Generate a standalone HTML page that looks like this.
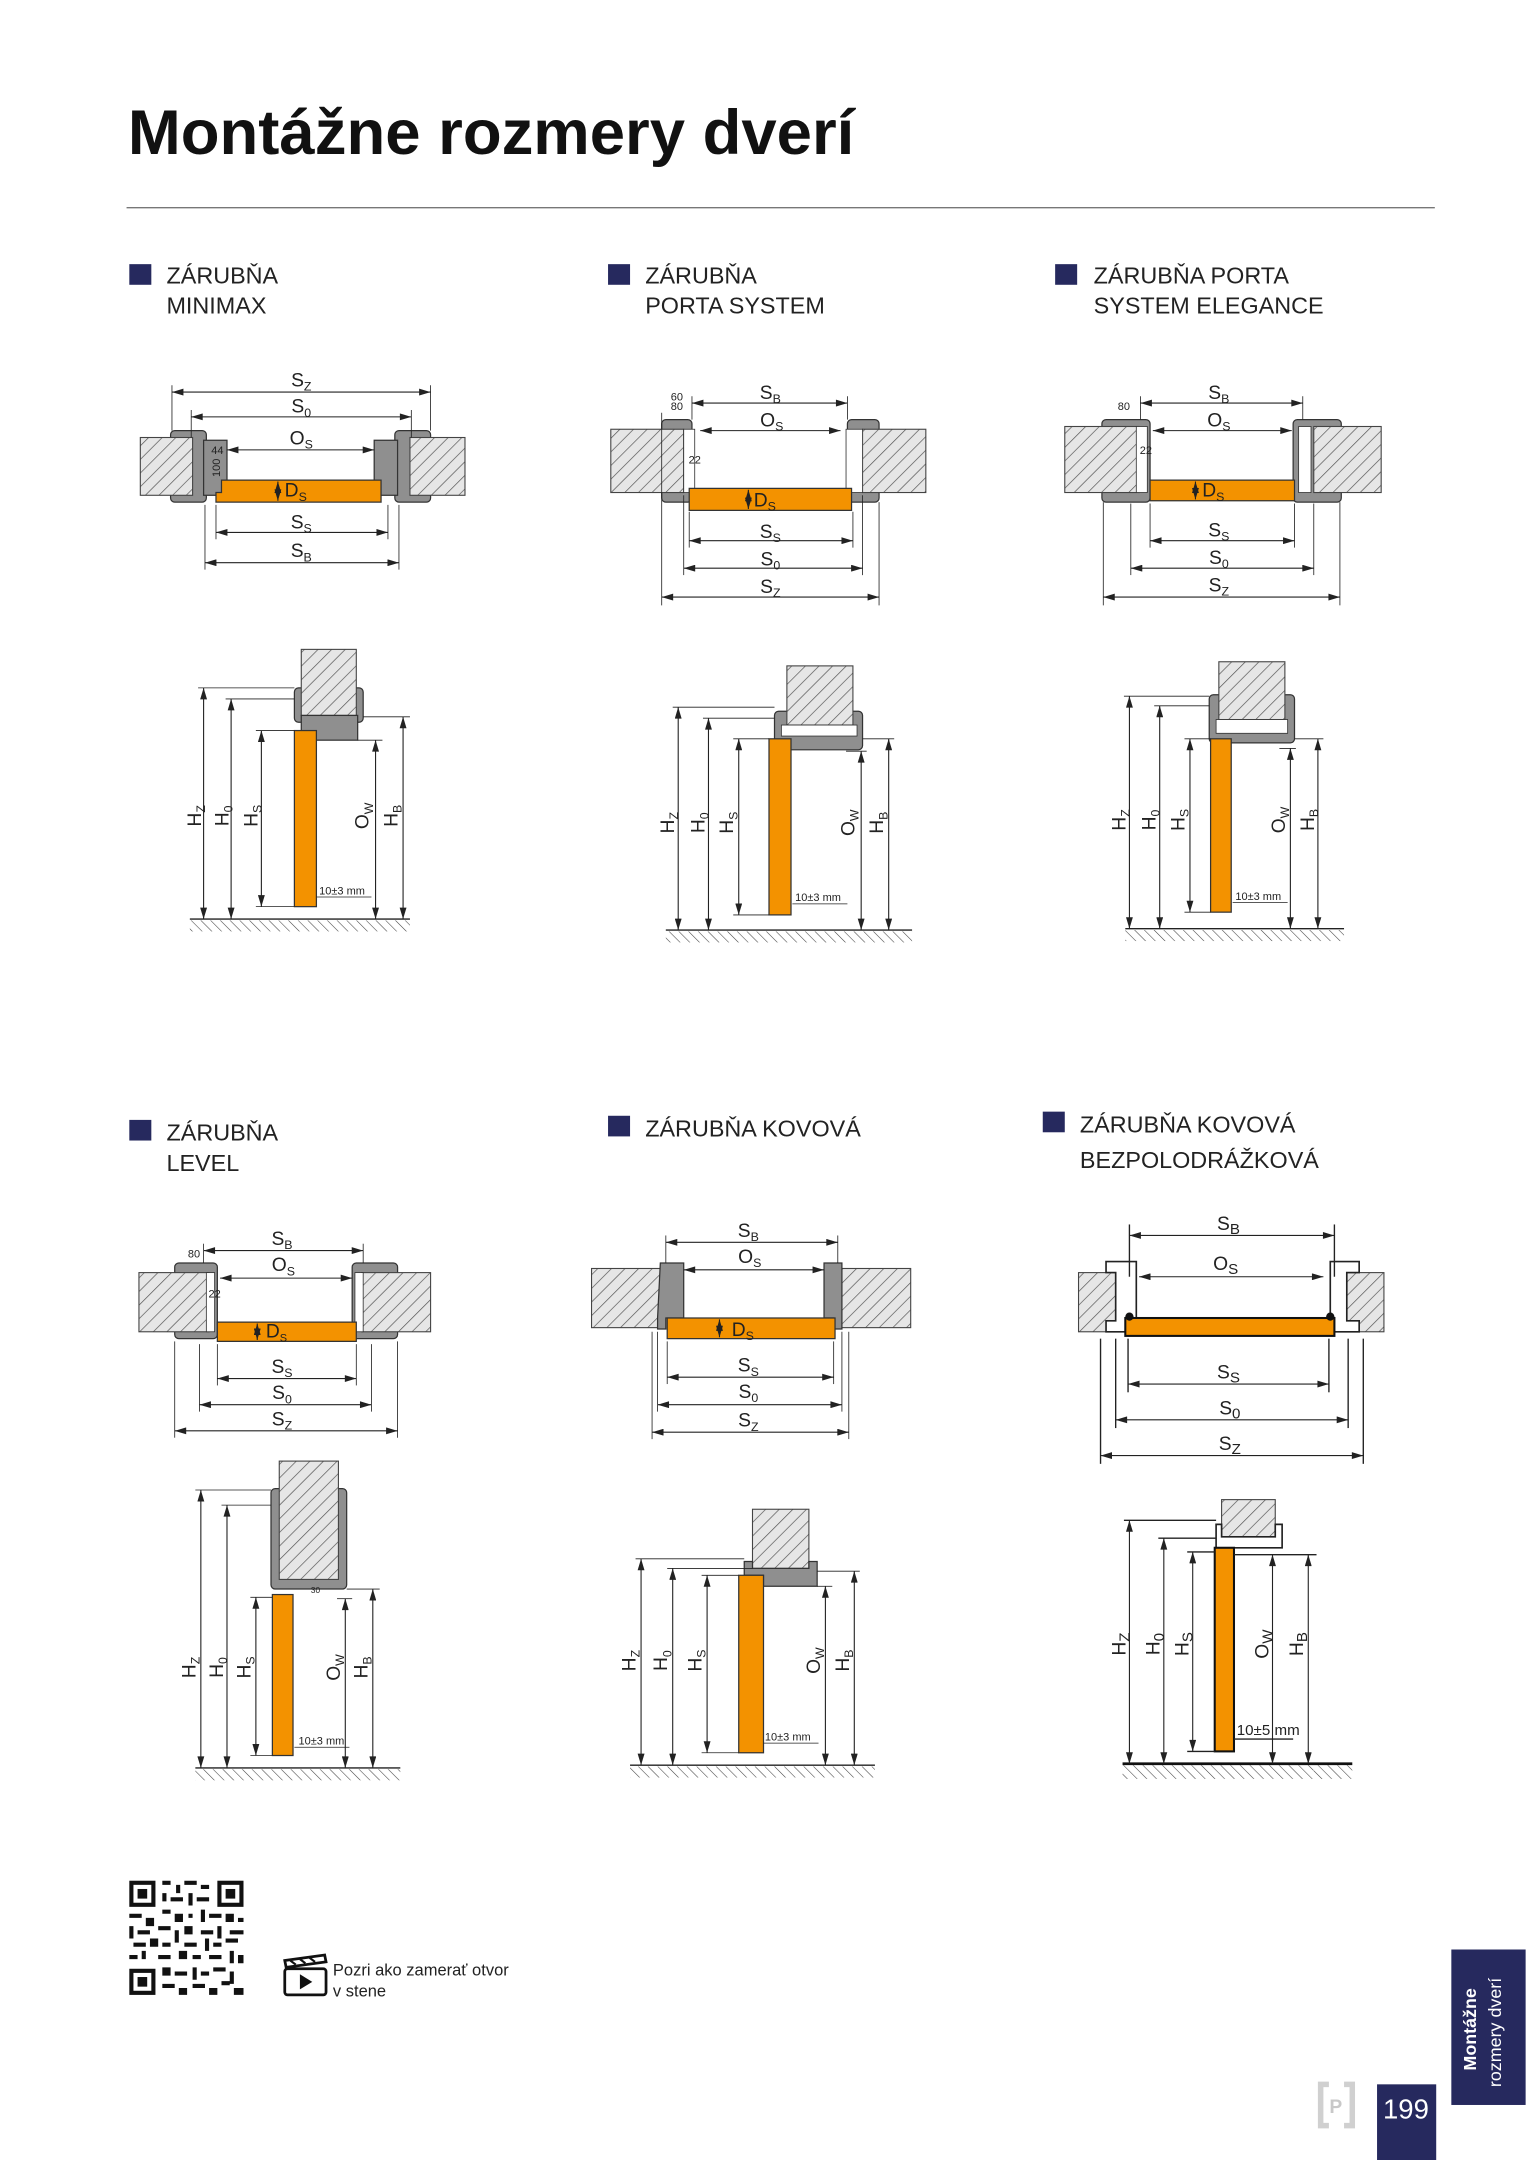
<!DOCTYPE html>
<html><head><meta charset="utf-8"><style>
html,body{margin:0;padding:0;background:#fff}
svg{display:block}
text{font-family:"Liberation Sans",sans-serif;fill:#222}
.l{font-size:14px;text-anchor:middle}
.s{font-size:8px;text-anchor:middle}
.h{font-size:17px}
.d{stroke:#222;stroke-width:.8;marker-start:url(#a);marker-end:url(#a);fill:none}
.e{stroke:#222;stroke-width:.6;fill:none}
.w{fill:url(#hx);stroke:#444;stroke-width:.8}
.f{fill:#8f8f8f;stroke:#333;stroke-width:.9}
.o{fill:#f39200;stroke:#333;stroke-width:.9}
.gnd{fill:url(#gh)}
</style></head><body>
<svg width="1527" height="2160" viewBox="0 0 1110 1570" preserveAspectRatio="none" xmlns="http://www.w3.org/2000/svg">
<defs>
<marker id="a" viewBox="0 0 10 6" refX="10" refY="3" markerWidth="9" markerHeight="5" orient="auto-start-reverse" markerUnits="userSpaceOnUse"><path d="M0 0L10 3L0 6z" fill="#222"/></marker>
<pattern id="hx" width="7" height="7" patternUnits="userSpaceOnUse" patternTransform="rotate(45)"><rect width="7" height="7" fill="#e6e6e6"/><line x1="0" y1="0" x2="0" y2="7" stroke="#555" stroke-width="1"/></pattern>
<pattern id="gh" width="5" height="5" patternUnits="userSpaceOnUse" patternTransform="rotate(-45)"><line x1="0" y1="0" x2="0" y2="5" stroke="#444" stroke-width=".8"/></pattern>
</defs>

<!-- Title -->
<text x="93" y="112" font-size="46" font-weight="bold" textLength="528" lengthAdjust="spacingAndGlyphs" style="fill:#111">Montážne rozmery dverí</text>
<line x1="92" y1="151" x2="1043" y2="151" stroke="#777" stroke-width="1"/>

<!-- Headers -->
<rect x="94" y="192" width="16" height="15" fill="#26295e"/>
<text x="121" y="206" class="h">ZÁRUBŇA</text><text x="121" y="228" class="h">MINIMAX</text>
<rect x="442" y="192" width="16" height="15" fill="#26295e"/>
<text x="469" y="206" class="h">ZÁRUBŇA</text><text x="469" y="228" class="h">PORTA SYSTEM</text>
<rect x="767" y="192" width="16" height="15" fill="#26295e"/>
<text x="795" y="206" class="h">ZÁRUBŇA PORTA</text><text x="795" y="228" class="h">SYSTEM ELEGANCE</text>
<rect x="94" y="814" width="16" height="15" fill="#26295e"/>
<text x="121" y="829" class="h">ZÁRUBŇA</text><text x="121" y="851" class="h">LEVEL</text>
<rect x="442" y="811" width="16" height="15" fill="#26295e"/>
<text x="469" y="826" class="h">ZÁRUBŇA KOVOVÁ</text>
<rect x="758" y="808" width="16" height="15" fill="#26295e"/>
<text x="785" y="823" class="h">ZÁRUBŇA KOVOVÁ</text><text x="785" y="849" class="h">BEZPOLODRÁŽKOVÁ</text>

<!-- ===== D1 MINIMAX top ===== -->
<rect x="124" y="313" width="26" height="52" rx="3" class="f"/>
<rect x="287" y="313" width="26" height="52" rx="3" class="f"/>
<rect x="102" y="318" width="38" height="42" class="w"/>
<rect x="298" y="318" width="40" height="42" class="w"/>
<rect x="148" y="320" width="17" height="40" class="f" fill="#9a9a9a"/>
<rect x="272" y="320" width="17" height="40" class="f"/>
<path d="M161 349H277V365H157V358H161Z" class="o"/>
<text x="158" y="330" class="s">44</text>
<text transform="translate(160,340) rotate(-90)" class="s">100</text>
<line x1="125" y1="280" x2="125" y2="313" class="e"/><line x1="313" y1="280" x2="313" y2="313" class="e"/>
<line x1="139" y1="298" x2="139" y2="318" class="e"/><line x1="299" y1="298" x2="299" y2="318" class="e"/>
<line x1="125" y1="285" x2="313" y2="285" class="d"/><text x="219" y="281" class="l">S<tspan font-size="9" dy="3">Z</tspan></text>
<line x1="139" y1="303" x2="299" y2="303" class="d"/><text x="219" y="300" class="l">S<tspan font-size="9" dy="3">0</tspan></text>
<line x1="165" y1="327" x2="272" y2="327" class="d"/><text x="219" y="323" class="l">O<tspan font-size="9" dy="3">S</tspan></text>
<line x1="202" y1="350" x2="202" y2="364" class="d"/><text x="215" y="361" class="l">D<tspan font-size="9" dy="3">S</tspan></text>
<line x1="157" y1="367" x2="157" y2="392" class="e"/><line x1="282" y1="367" x2="282" y2="392" class="e"/>
<line x1="149" y1="367" x2="149" y2="414" class="e"/><line x1="290" y1="367" x2="290" y2="414" class="e"/>
<line x1="157" y1="387" x2="282" y2="387" class="d"/><text x="219" y="384" class="l">S<tspan font-size="9" dy="3">S</tspan></text>
<line x1="149" y1="409" x2="290" y2="409" class="d"/><text x="219" y="405" class="l">S<tspan font-size="9" dy="3">B</tspan></text>

<!-- D1 side -->
<rect x="214" y="500" width="50" height="25" rx="3" class="f"/>
<rect x="219" y="472" width="40" height="48" class="w"/>
<rect x="219" y="520" width="41" height="18" class="f"/>
<rect x="214" y="531" width="16" height="128" class="o"/>
<line x1="138" y1="668" x2="298" y2="668" stroke="#222"/><rect x="138" y="669" width="160" height="8" class="gnd"/>
<line x1="144" y1="500" x2="214" y2="500" class="e"/><line x1="164" y1="508" x2="214" y2="508" class="e"/>
<line x1="186" y1="531" x2="214" y2="531" class="e"/><line x1="186" y1="659" x2="214" y2="659" class="e"/>
<line x1="260" y1="538" x2="278" y2="538" class="e"/><line x1="264" y1="521" x2="298" y2="521" class="e"/>
<line x1="148" y1="500" x2="148" y2="668" class="d"/><line x1="168" y1="508" x2="168" y2="668" class="d"/>
<line x1="190" y1="531" x2="190" y2="659" class="d"/><line x1="273" y1="538" x2="273" y2="668" class="d"/>
<line x1="293" y1="521" x2="293" y2="668" class="d"/>
<text transform="translate(146,593) rotate(-90)" class="l">H<tspan font-size="9" dy="3">Z</tspan></text>
<text transform="translate(166,593) rotate(-90)" class="l">H<tspan font-size="9" dy="3">0</tspan></text>
<text transform="translate(187,593) rotate(-90)" class="l">H<tspan font-size="9" dy="3">S</tspan></text>
<text transform="translate(268,593) rotate(-90)" class="l">O<tspan font-size="9" dy="3">W</tspan></text>
<text transform="translate(289,593) rotate(-90)" class="l">H<tspan font-size="9" dy="3">B</tspan></text>
<text x="232" y="650" font-size="8">10±3 mm</text><line x1="230" y1="652" x2="270" y2="652" class="e"/>

<!-- ===== D2 PORTA top ===== -->
<rect x="481" y="305" width="22" height="60" rx="3" class="f"/>
<rect x="616" y="305" width="23" height="60" rx="3" class="f"/>
<rect x="444" y="312" width="53" height="46" class="w"/>
<rect x="627" y="312" width="46" height="46" class="w"/>
<rect x="497" y="312" width="8" height="46" fill="#fff" stroke="#333" stroke-width=".6"/>
<rect x="615" y="312" width="12" height="46" fill="#fff" stroke="#333" stroke-width=".6"/>
<path d="M501 355H619V371H501Z" class="o"/>
<text x="492" y="291" class="s">60</text><text x="492" y="298" class="s">80</text>
<text x="505" y="337" class="s">22</text>
<line x1="481" y1="300" x2="481" y2="440" class="e"/><line x1="639" y1="365" x2="639" y2="440" class="e"/>
<line x1="503" y1="288" x2="503" y2="305" class="e"/><line x1="616" y1="288" x2="616" y2="305" class="e"/>
<line x1="503" y1="293" x2="616" y2="293" class="d"/><text x="560" y="290" class="l">S<tspan font-size="9" dy="3">B</tspan></text>
<line x1="509" y1="313" x2="611" y2="313" class="d"/><text x="561" y="310" class="l">O<tspan font-size="9" dy="3">S</tspan></text>
<line x1="544" y1="356" x2="544" y2="370" class="d"/><text x="556" y="368" class="l">D<tspan font-size="9" dy="3">S</tspan></text>
<line x1="501" y1="372" x2="501" y2="398" class="e"/><line x1="620" y1="372" x2="620" y2="398" class="e"/>
<line x1="497" y1="360" x2="497" y2="418" class="e"/><line x1="627" y1="360" x2="627" y2="418" class="e"/>
<line x1="501" y1="393" x2="620" y2="393" class="d"/><text x="560" y="391" class="l">S<tspan font-size="9" dy="3">S</tspan></text>
<line x1="497" y1="413" x2="627" y2="413" class="d"/><text x="560" y="411" class="l">S<tspan font-size="9" dy="3">0</tspan></text>
<line x1="481" y1="434" x2="639" y2="434" class="d"/><text x="560" y="431" class="l">S<tspan font-size="9" dy="3">Z</tspan></text>

<!-- D2 side -->
<rect x="563" y="517" width="64" height="28" rx="3" class="f"/>
<rect x="572" y="484" width="48" height="43" class="w"/>
<rect x="568" y="527" width="55" height="8" fill="#fff" stroke="#333" stroke-width=".6"/>
<rect x="559" y="537" width="16" height="128" class="o"/>
<line x1="484" y1="676" x2="663" y2="676" stroke="#222"/><rect x="484" y="677" width="179" height="8" class="gnd"/>
<line x1="489" y1="514" x2="563" y2="514" class="e"/><line x1="511" y1="522" x2="563" y2="522" class="e"/>
<line x1="533" y1="537" x2="559" y2="537" class="e"/><line x1="533" y1="665" x2="559" y2="665" class="e"/>
<line x1="615" y1="546" x2="630" y2="546" class="e"/><line x1="627" y1="537" x2="650" y2="537" class="e"/>
<line x1="493" y1="514" x2="493" y2="676" class="d"/><line x1="515" y1="522" x2="515" y2="676" class="d"/>
<line x1="537" y1="537" x2="537" y2="665" class="d"/><line x1="626" y1="546" x2="626" y2="676" class="d"/>
<line x1="646" y1="537" x2="646" y2="676" class="d"/>
<text transform="translate(490,598) rotate(-90)" class="l">H<tspan font-size="9" dy="3">Z</tspan></text>
<text transform="translate(512,598) rotate(-90)" class="l">H<tspan font-size="9" dy="3">0</tspan></text>
<text transform="translate(533,598) rotate(-90)" class="l">H<tspan font-size="9" dy="3">S</tspan></text>
<text transform="translate(621,598) rotate(-90)" class="l">O<tspan font-size="9" dy="3">W</tspan></text>
<text transform="translate(642,598) rotate(-90)" class="l">H<tspan font-size="9" dy="3">B</tspan></text>
<text x="578" y="655" font-size="8">10±3 mm</text><line x1="576" y1="657" x2="616" y2="657" class="e"/>

<!-- ===== D3 ELEGANCE top ===== -->
<rect x="801" y="305" width="35" height="60" rx="3" class="f"/>
<rect x="940" y="305" width="35" height="60" rx="3" class="f"/>
<rect x="774" y="310" width="54" height="48" class="w"/>
<rect x="955" y="310" width="49" height="48" class="w"/>
<rect x="826" y="310" width="8" height="48" fill="#fff" stroke="#333" stroke-width=".6"/>
<rect x="944" y="310" width="9" height="48" fill="#fff" stroke="#333" stroke-width=".6"/>
<path d="M836 349H941V364H836Z" class="o"/>
<text x="817" y="298" class="s">80</text><text x="833" y="330" class="s">22</text>
<line x1="802" y1="365" x2="802" y2="440" class="e"/><line x1="974" y1="365" x2="974" y2="440" class="e"/>
<line x1="829" y1="288" x2="829" y2="305" class="e"/><line x1="947" y1="288" x2="947" y2="305" class="e"/>
<line x1="829" y1="293" x2="947" y2="293" class="d"/><text x="886" y="290" class="l">S<tspan font-size="9" dy="3">B</tspan></text>
<line x1="838" y1="313" x2="939" y2="313" class="d"/><text x="886" y="310" class="l">O<tspan font-size="9" dy="3">S</tspan></text>
<line x1="869" y1="350" x2="869" y2="363" class="d"/><text x="882" y="361" class="l">D<tspan font-size="9" dy="3">S</tspan></text>
<line x1="836" y1="366" x2="836" y2="398" class="e"/><line x1="941" y1="366" x2="941" y2="398" class="e"/>
<line x1="822" y1="366" x2="822" y2="418" class="e"/><line x1="955" y1="366" x2="955" y2="418" class="e"/>
<line x1="836" y1="393" x2="941" y2="393" class="d"/><text x="886" y="390" class="l">S<tspan font-size="9" dy="3">S</tspan></text>
<line x1="822" y1="413" x2="955" y2="413" class="d"/><text x="886" y="410" class="l">S<tspan font-size="9" dy="3">0</tspan></text>
<line x1="802" y1="434" x2="974" y2="434" class="d"/><text x="886" y="430" class="l">S<tspan font-size="9" dy="3">Z</tspan></text>

<!-- D3 side -->
<rect x="879" y="505" width="62" height="35" rx="3" class="f"/>
<rect x="886" y="481" width="48" height="42" class="w"/>
<rect x="884" y="523" width="52" height="10" fill="#fff" stroke="#333" stroke-width=".6"/>
<rect x="880" y="537" width="15" height="126" class="o"/>
<line x1="818" y1="675" x2="977" y2="675" stroke="#222"/><rect x="818" y="676" width="159" height="8" class="gnd"/>
<line x1="817" y1="506" x2="879" y2="506" class="e"/><line x1="839" y1="513" x2="879" y2="513" class="e"/>
<line x1="861" y1="537" x2="880" y2="537" class="e"/><line x1="861" y1="663" x2="880" y2="663" class="e"/>
<line x1="930" y1="544" x2="942" y2="544" class="e"/><line x1="941" y1="537" x2="962" y2="537" class="e"/>
<line x1="821" y1="506" x2="821" y2="675" class="d"/><line x1="843" y1="513" x2="843" y2="675" class="d"/>
<line x1="865" y1="537" x2="865" y2="663" class="d"/><line x1="938" y1="544" x2="938" y2="675" class="d"/>
<line x1="958" y1="537" x2="958" y2="675" class="d"/>
<text transform="translate(818,596) rotate(-90)" class="l">H<tspan font-size="9" dy="3">Z</tspan></text>
<text transform="translate(840,596) rotate(-90)" class="l">H<tspan font-size="9" dy="3">0</tspan></text>
<text transform="translate(861,596) rotate(-90)" class="l">H<tspan font-size="9" dy="3">S</tspan></text>
<text transform="translate(934,596) rotate(-90)" class="l">O<tspan font-size="9" dy="3">W</tspan></text>
<text transform="translate(955,596) rotate(-90)" class="l">H<tspan font-size="9" dy="3">B</tspan></text>
<text x="898" y="654" font-size="8">10±3 mm</text><line x1="896" y1="656" x2="936" y2="656" class="e"/>

<!-- ===== D4 LEVEL top ===== -->
<rect x="127" y="918" width="31" height="55" rx="3" class="f"/>
<rect x="256" y="918" width="33" height="55" rx="3" class="f"/>
<rect x="101" y="925" width="51" height="43" class="w"/>
<rect x="263" y="925" width="50" height="43" class="w"/>
<rect x="150" y="925" width="6" height="43" fill="#fff" stroke="#333" stroke-width=".6"/>
<rect x="258" y="925" width="6" height="43" fill="#fff" stroke="#333" stroke-width=".6"/>
<path d="M158 961H259V975H158Z" class="o"/>
<text x="141" y="914" class="s">80</text><text x="156" y="943" class="s" font-size="6">22</text>
<line x1="127" y1="975" x2="127" y2="1045" class="e"/><line x1="289" y1="975" x2="289" y2="1045" class="e"/>
<line x1="148" y1="904" x2="148" y2="918" class="e"/><line x1="264" y1="904" x2="264" y2="918" class="e"/>
<line x1="148" y1="909" x2="264" y2="909" class="d"/><text x="205" y="905" class="l">S<tspan font-size="9" dy="3">B</tspan></text>
<line x1="160" y1="929" x2="256" y2="929" class="d"/><text x="206" y="924" class="l">O<tspan font-size="9" dy="3">S</tspan></text>
<line x1="187" y1="962" x2="187" y2="974" class="d"/><text x="201" y="972" class="l" font-size="12">D<tspan font-size="8" dy="3">S</tspan></text>
<line x1="158" y1="977" x2="158" y2="1007" class="e"/><line x1="259" y1="977" x2="259" y2="1007" class="e"/>
<line x1="145" y1="977" x2="145" y2="1026" class="e"/><line x1="270" y1="977" x2="270" y2="1026" class="e"/>
<line x1="158" y1="1002" x2="259" y2="1002" class="d"/><text x="205" y="998" class="l">S<tspan font-size="9" dy="3">S</tspan></text>
<line x1="145" y1="1021" x2="270" y2="1021" class="d"/><text x="205" y="1017" class="l">S<tspan font-size="9" dy="3">0</tspan></text>
<line x1="127" y1="1040" x2="289" y2="1040" class="d"/><text x="205" y="1036" class="l">S<tspan font-size="9" dy="3">Z</tspan></text>

<!-- D4 side -->
<rect x="197" y="1082" width="55" height="73" rx="3" class="f"/>
<rect x="203" y="1062" width="43" height="86" class="w"/>
<rect x="198" y="1159" width="15" height="117" class="o"/>
<text x="226" y="1158" font-size="6">30</text>
<line x1="142" y1="1285" x2="291" y2="1285" stroke="#222"/><rect x="142" y="1286" width="149" height="8" class="gnd"/>
<line x1="142" y1="1083" x2="197" y2="1083" class="e"/><line x1="161" y1="1094" x2="197" y2="1094" class="e"/>
<line x1="182" y1="1161" x2="198" y2="1161" class="e"/><line x1="182" y1="1276" x2="198" y2="1276" class="e"/>
<line x1="245" y1="1162" x2="256" y2="1162" class="e"/><line x1="252" y1="1155" x2="276" y2="1155" class="e"/>
<line x1="146" y1="1083" x2="146" y2="1285" class="d"/><line x1="165" y1="1094" x2="165" y2="1285" class="d"/>
<line x1="186" y1="1161" x2="186" y2="1276" class="d"/><line x1="251" y1="1162" x2="251" y2="1285" class="d"/>
<line x1="271" y1="1155" x2="271" y2="1285" class="d"/>
<text transform="translate(142,1212) rotate(-90)" class="l">H<tspan font-size="9" dy="3">Z</tspan></text>
<text transform="translate(162,1212) rotate(-90)" class="l">H<tspan font-size="9" dy="3">0</tspan></text>
<text transform="translate(182,1212) rotate(-90)" class="l">H<tspan font-size="9" dy="3">S</tspan></text>
<text transform="translate(247,1212) rotate(-90)" class="l">O<tspan font-size="9" dy="3">W</tspan></text>
<text transform="translate(267,1212) rotate(-90)" class="l">H<tspan font-size="9" dy="3">B</tspan></text>
<text x="217" y="1268" font-size="8">10±3 mm</text><line x1="214" y1="1270" x2="254" y2="1270" class="e"/>

<!-- ===== D5 KOVOVA top ===== -->
<rect x="430" y="922" width="53" height="43" class="w"/>
<rect x="612" y="922" width="50" height="43" class="w"/>
<path d="M480 918H497V958H484V966H478V958Z" class="f"/>
<path d="M599 918H612V966H606V958H599Z" class="f"/>
<path d="M485 958H607V973H485Z" class="o"/>
<line x1="484" y1="898" x2="484" y2="918" class="e"/><line x1="609" y1="898" x2="609" y2="918" class="e"/>
<line x1="484" y1="903" x2="609" y2="903" class="d"/><text x="544" y="899" class="l">S<tspan font-size="9" dy="3">B</tspan></text>
<line x1="497" y1="923" x2="599" y2="923" class="d"/><text x="545" y="918" class="l">O<tspan font-size="9" dy="3">S</tspan></text>
<line x1="523" y1="959" x2="523" y2="972" class="d"/><text x="540" y="971" class="l">D<tspan font-size="9" dy="3">S</tspan></text>
<line x1="485" y1="975" x2="485" y2="1006" class="e"/><line x1="606" y1="975" x2="606" y2="1006" class="e"/>
<line x1="478" y1="968" x2="478" y2="1026" class="e"/><line x1="612" y1="968" x2="612" y2="1026" class="e"/>
<line x1="474" y1="968" x2="474" y2="1046" class="e"/><line x1="617" y1="968" x2="617" y2="1046" class="e"/>
<line x1="485" y1="1001" x2="606" y2="1001" class="d"/><text x="544" y="997" class="l">S<tspan font-size="9" dy="3">S</tspan></text>
<line x1="478" y1="1021" x2="612" y2="1021" class="d"/><text x="544" y="1016" class="l">S<tspan font-size="9" dy="3">0</tspan></text>
<line x1="474" y1="1041" x2="617" y2="1041" class="d"/><text x="544" y="1037" class="l">S<tspan font-size="9" dy="3">Z</tspan></text>

<!-- D5 side -->
<rect x="547" y="1097" width="41" height="43" class="w"/>
<path d="M541 1135H547V1140H588V1135H594V1153H555V1145H541Z" class="f"/>
<rect x="537" y="1145" width="18" height="129" class="o"/>
<line x1="458" y1="1283" x2="636" y2="1283" stroke="#222"/><rect x="458" y="1284" width="178" height="8" class="gnd"/>
<line x1="462" y1="1133" x2="541" y2="1133" class="e"/><line x1="485" y1="1140" x2="547" y2="1140" class="e"/>
<line x1="510" y1="1145" x2="537" y2="1145" class="e"/><line x1="510" y1="1274" x2="537" y2="1274" class="e"/>
<line x1="594" y1="1153" x2="605" y2="1153" class="e"/><line x1="594" y1="1142" x2="625" y2="1142" class="e"/>
<line x1="466" y1="1133" x2="466" y2="1283" class="d"/><line x1="489" y1="1140" x2="489" y2="1283" class="d"/>
<line x1="514" y1="1145" x2="514" y2="1274" class="d"/><line x1="600" y1="1153" x2="600" y2="1283" class="d"/>
<line x1="621" y1="1142" x2="621" y2="1283" class="d"/>
<text transform="translate(462,1207) rotate(-90)" class="l">H<tspan font-size="9" dy="3">Z</tspan></text>
<text transform="translate(485,1207) rotate(-90)" class="l">H<tspan font-size="9" dy="3">0</tspan></text>
<text transform="translate(510,1207) rotate(-90)" class="l">H<tspan font-size="9" dy="3">S</tspan></text>
<text transform="translate(596,1207) rotate(-90)" class="l">O<tspan font-size="9" dy="3">W</tspan></text>
<text transform="translate(617,1207) rotate(-90)" class="l">H<tspan font-size="9" dy="3">B</tspan></text>
<text x="556" y="1265" font-size="8">10±3 mm</text><line x1="555" y1="1267" x2="595" y2="1267" class="e"/>

<!-- ===== D6 BEZPOLODRAZKOVA top ===== -->
<rect x="784" y="925" width="27" height="43" class="w" stroke="#222" stroke-width="1.2"/>
<rect x="979" y="925" width="27" height="43" class="w" stroke="#222" stroke-width="1.2"/>
<path d="M804 917H826V968H804V960H811V925H804Z" fill="#fff" stroke="#222" stroke-width="1.2"/>
<path d="M988 917H967V968H988V960H979V925H988Z" fill="#fff" stroke="#222" stroke-width="1.2"/>
<rect x="818" y="958" width="152" height="13" fill="#f39200" stroke="#111" stroke-width="1.5"/>
<circle cx="821" cy="957" r="3" fill="#111"/><circle cx="967" cy="957" r="3" fill="#111"/>
<line x1="821" y1="890" x2="821" y2="928" stroke="#222"/><line x1="970" y1="890" x2="970" y2="928" stroke="#222"/>
<line x1="821" y1="898" x2="970" y2="898" class="d" stroke-width="1.2"/><text x="893" y="894" class="l" font-size="16">S<tspan font-size="11" dy="3">B</tspan></text>
<line x1="828" y1="928" x2="962" y2="928" class="d" stroke-width="1.2"/><text x="891" y="923" class="l" font-size="16">O<tspan font-size="11" dy="3">S</tspan></text>
<line x1="820" y1="973" x2="820" y2="1012" stroke="#222"/><line x1="966" y1="973" x2="966" y2="1012" stroke="#222"/>
<line x1="811" y1="973" x2="811" y2="1038" stroke="#222"/><line x1="980" y1="973" x2="980" y2="1038" stroke="#222"/>
<line x1="800" y1="973" x2="800" y2="1064" stroke="#222"/><line x1="991" y1="973" x2="991" y2="1064" stroke="#222"/>
<line x1="820" y1="1006" x2="966" y2="1006" class="d" stroke-width="1.2"/><text x="893" y="1002" class="l" font-size="16">S<tspan font-size="11" dy="3">S</tspan></text>
<line x1="811" y1="1032" x2="980" y2="1032" class="d" stroke-width="1.2"/><text x="894" y="1028" class="l" font-size="16">S<tspan font-size="11" dy="3">0</tspan></text>
<line x1="800" y1="1058" x2="991" y2="1058" class="d" stroke-width="1.2"/><text x="894" y="1054" class="l" font-size="16">S<tspan font-size="11" dy="3">Z</tspan></text>

<!-- D6 side -->
<rect x="888" y="1090" width="39" height="27" class="w" stroke="#222" stroke-width="1.2"/>
<path d="M884 1108H888V1117H927V1108H932V1125H884Z" fill="#fff" stroke="#222" stroke-width="1.2"/>
<rect x="883" y="1125" width="14" height="148" fill="#f39200" stroke="#111" stroke-width="1.5"/>
<line x1="816" y1="1282" x2="983" y2="1282" stroke="#111" stroke-width="2"/><rect x="816" y="1283" width="167" height="10" class="gnd"/>
<line x1="817" y1="1105" x2="884" y2="1105" stroke="#222"/><line x1="842" y1="1118" x2="884" y2="1118" stroke="#222"/>
<line x1="863" y1="1128" x2="883" y2="1128" stroke="#222"/><line x1="863" y1="1273" x2="883" y2="1273" stroke="#222"/>
<line x1="897" y1="1130" x2="957" y2="1130" stroke="#222"/>
<line x1="821" y1="1105" x2="821" y2="1282" class="d" stroke-width="1.2"/><line x1="846" y1="1118" x2="846" y2="1282" class="d" stroke-width="1.2"/>
<line x1="867" y1="1128" x2="867" y2="1273" class="d" stroke-width="1.2"/><line x1="925" y1="1130" x2="925" y2="1282" class="d" stroke-width="1.2"/>
<line x1="951" y1="1130" x2="951" y2="1282" class="d" stroke-width="1.2"/>
<text transform="translate(818,1195) rotate(-90)" class="l" font-size="16">H<tspan font-size="11" dy="3">Z</tspan></text>
<text transform="translate(843,1195) rotate(-90)" class="l" font-size="16">H<tspan font-size="11" dy="3">0</tspan></text>
<text transform="translate(864,1195) rotate(-90)" class="l" font-size="16">H<tspan font-size="11" dy="3">S</tspan></text>
<text transform="translate(922,1195) rotate(-90)" class="l" font-size="16">O<tspan font-size="11" dy="3">W</tspan></text>
<text transform="translate(947,1195) rotate(-90)" class="l" font-size="16">H<tspan font-size="11" dy="3">B</tspan></text>
<text x="899" y="1261" font-size="11">10±5 mm</text><line x1="897" y1="1264" x2="940" y2="1264" stroke="#222"/>

<!-- QR -->
<g fill="#111">
<rect x="94" y="1367" width="83" height="83" fill="#fff"/>
<rect x="94" y="1367" width="19" height="19"/><rect x="97" y="1370" width="13" height="13" fill="#fff"/><rect x="100" y="1373" width="7" height="7"/>
<rect x="158" y="1367" width="19" height="19"/><rect x="161" y="1370" width="13" height="13" fill="#fff"/><rect x="164" y="1373" width="7" height="7"/>
<rect x="94" y="1431" width="19" height="19"/><rect x="97" y="1434" width="13" height="13" fill="#fff"/><rect x="100" y="1437" width="7" height="7"/>
<path d="M118 1367h6v3h-6zM128 1370h3v6h-3zM134 1367h9v3h-9zM146 1370h6v3h-6zM118 1376h3v6h-3zM124 1379h9v3h-9zM137 1376h3v9h-3zM143 1379h9v3h-9zM118 1388h6v3h-6zM94 1391h9v3h-9zM106 1394h6v6h-6zM127 1391h6v6h-6zM137 1391h3v3h-3zM146 1388h3v9h-3zM152 1391h9v3h-9zM164 1391h6v6h-6zM173 1394h4v3h-4zM94 1400h3v9h-3zM100 1403h9v3h-9zM115 1400h9v3h-9zM127 1403h3v9h-3zM134 1400h6v6h-6zM146 1403h9v3h-9zM158 1400h3v9h-3zM167 1403h10v3h-10zM97 1412h9v3h-9zM109 1409h6v6h-6zM118 1412h6v3h-6zM134 1412h9v3h-9zM149 1409h3v9h-3zM155 1412h6v3h-6zM164 1409h9v3h-9zM94 1421h6v3h-6zM103 1418h3v6h-3zM115 1421h9v3h-9zM130 1418h6v6h-6zM140 1421h6v3h-6zM152 1421h9v3h-9zM167 1418h3v9h-3zM173 1421h4v6h-4zM118 1430h6v6h-6zM127 1433h9v3h-9zM140 1430h3v9h-3zM146 1433h6v3h-6zM155 1430h9v3h-9zM167 1433h3v9h-3zM118 1442h9v3h-9zM130 1445h6v5h-6zM140 1442h9v3h-9zM152 1445h6v5h-6zM161 1440h6v3h-6zM170 1445h7v5h-7z"/>
</g>
<!-- video icon -->
<g stroke="#111" stroke-width="2" fill="none">
<rect x="207" y="1431" width="30" height="19" rx="2"/>
<path d="M207 1425l29-4 1 5-29 4z"/>
</g>
<path d="M218 1435v11l9-5.5z" fill="#111"/>
<path d="M211 1425l4 3M218 1424l4 3M225 1423l4 3" stroke="#111" stroke-width="1.5"/>
<text x="242" y="1436" font-size="12">Pozri ako zamerať otvor</text>
<text x="242" y="1451" font-size="12">v stene</text>

<!-- side tab -->
<rect x="1055" y="1417" width="54" height="113" fill="#26295e"/>
<text transform="translate(1073,1505) rotate(-90)" font-size="13" font-weight="bold" style="fill:#fff">Montážne</text>
<text transform="translate(1091,1517) rotate(-90)" font-size="13" style="fill:#fff">rozmery dverí</text>
<rect x="1001" y="1515" width="43" height="55" fill="#26295e"/>
<text x="1022" y="1540" font-size="20" text-anchor="middle" style="fill:#fff">199</text>
<path d="M958 1513h8v4h-4v26h4v4h-8zM985 1513h-8v4h4v26h-4v4h8z" fill="#d0d0d0"/>
<text x="971" y="1536" font-size="14" font-weight="bold" text-anchor="middle" style="fill:#c8c8c8">P</text>
</svg>
</body></html>
